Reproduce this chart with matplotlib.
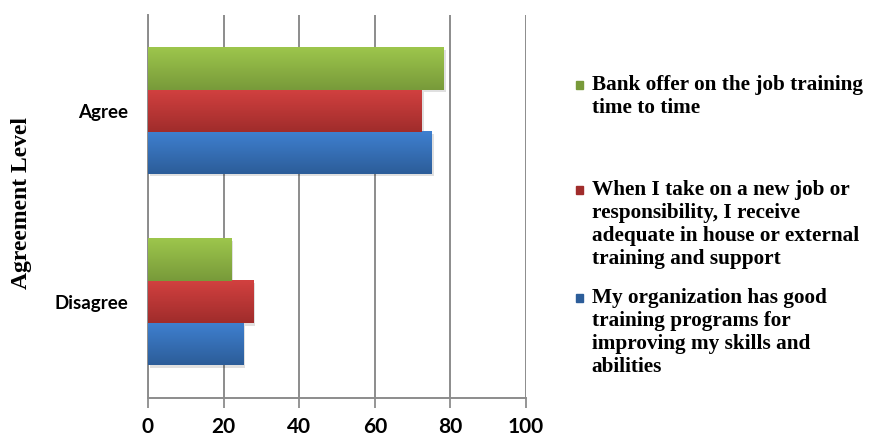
import matplotlib.pyplot as plt
import numpy as np
from matplotlib.colors import LinearSegmentedColormap
from matplotlib.patches import Rectangle

### Data ###
categories = ['Disagree', 'Agree']
series_labels = [
    'My organization has good\ntraining programs for\nimproving my skills and\nabilities',
    'When I take on a new job or\nresponsibility, I receive\nadequate in house or external\ntraining and support',
    'Bank offer on the job training\ntime to time',
]
blue_vals = [25.2, 75.1]
red_vals = [27.8, 72.4]
green_vals = [22.0, 78.3]
x_ticks = [0, 20, 40, 60, 80, 100]

# (top colour, bottom colour) for the Excel-like gradient
shades = [('#3f80d0', '#2c5d99'), ('#d24140', '#a02c2b'), ('#9dc64c', '#789a3a')]
legend_y = [0.325, 0.569, 0.807]   # figure coords of first text line centre (blue, red, green)

### Plotting ###
fig = plt.figure(figsize=(8.74, 4.41), dpi=100)
ax = fig.add_axes([0.1693, 0.0975, 0.4325, 0.8685])

y = np.arange(len(categories))
h = 0.22
offsets = [-h, 0, h]
all_vals = [blue_vals, red_vals, green_vals]

grad = np.linspace(0, 1, 64).reshape(-1, 1)
for vals, off, (c1, c2) in zip(all_vals, offsets, shades):
    bars = ax.barh(y + off, vals, height=h, color=c2, edgecolor='none', zorder=3)
    cmap = LinearSegmentedColormap.from_list('g', [c1, c2])
    for b in bars:
        x0, y0 = b.get_x(), b.get_y()
        w, hh = b.get_width(), b.get_height()
        # soft shadow
        ax.add_patch(Rectangle((x0 + 0.5, y0 - 0.012), w, hh, color='#000000',
                               alpha=0.12, zorder=2, lw=0))
        ax.imshow(grad, extent=(x0, x0 + w, y0, y0 + hh), cmap=cmap,
                  aspect='auto', origin='upper', zorder=4)

ax.set_xlim(0, 100)
ax.set_ylim(-0.5, 1.5)
ax.set_xticks(x_ticks)
ax.set_xticklabels([str(t) for t in x_ticks], fontfamily='Lato', fontweight='bold', fontsize=15)
ax.set_yticks(y)
ax.set_yticklabels(categories, fontfamily='Lato', fontweight='bold', fontsize=13.5)
ax.tick_params(axis='y', length=0, pad=14)
ax.tick_params(axis='x', direction='out', length=7, width=1.3, color='#8c8c8c', pad=7)

ax.grid(axis='x', color='#8c8c8c', linewidth=1.4, zorder=0)
ax.set_axisbelow(True)
for s in ['top', 'right']:
    ax.spines[s].set_visible(False)
for s in ['left', 'bottom']:
    ax.spines[s].set_color('#8c8c8c')
    ax.spines[s].set_linewidth(1.4)

fig.text(0.025, 0.54, 'Agreement Level', rotation=90, ha='center', va='center',
         fontfamily='Liberation Serif', fontweight='bold', fontsize=17)

# legend, laid out like the Excel one
for lab, ly, (c1, c2) in zip(series_labels, legend_y, shades):
    fig.patches.append(Rectangle((0.6585, ly - 0.009), 0.009, 0.018, color=c2,
                                 transform=fig.transFigure, figure=fig))
    fig.text(0.677, ly + 0.022, lab, ha='left', va='top', linespacing=1.2,
             fontfamily='Liberation Serif', fontweight='bold', fontsize=15.3)

fig.savefig('out.png', dpi=100)
